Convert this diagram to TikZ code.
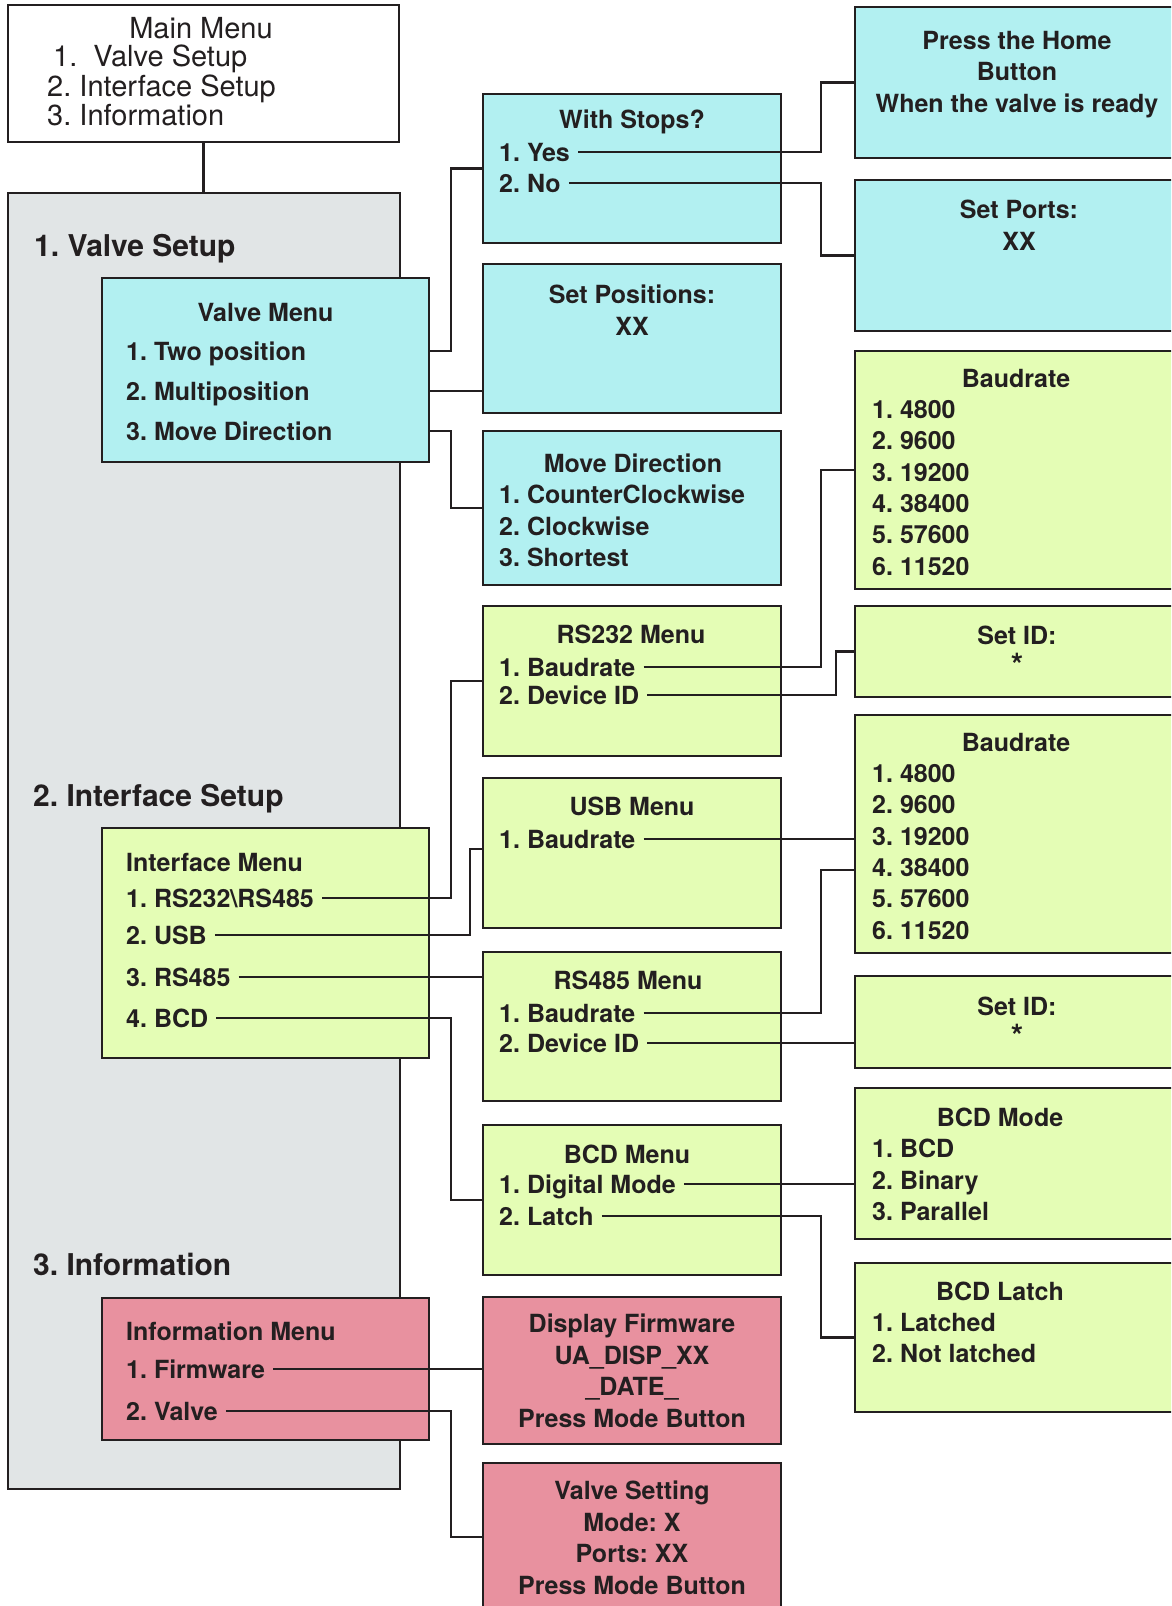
\documentclass[tikz,border=0pt]{standalone}
\usepackage{fontspec}
\setmainfont{TeX Gyre Heros}
\frenchspacing
\definecolor{ink}{HTML}{231F20}
\definecolor{menucyan}{HTML}{B2F0F1}
\definecolor{menulime}{HTML}{E4FDB5}
\definecolor{menupink}{HTML}{E8919F}
\definecolor{panelgray}{HTML}{E1E5E6}
\begin{document}
\begin{tikzpicture}[x=1pt,y=-1pt,
    box/.style={draw=ink,line width=2.6pt,inner sep=0pt},
    cyanbox/.style={box,fill=menucyan},
    limebox/.style={box,fill=menulime},
    pinkbox/.style={box,fill=menupink},
    leftcol/.style={minimum width=327pt},
    midcol/.style={minimum width=298pt},
    rightcol/.style={minimum width=345pt},
    txt/.style={font=\fontsize{25}{31.4}\selectfont\bfseries\frenchspacing,text=ink},
    head/.style={txt,inner sep=0pt,text height=18pt,text depth=0pt},
    item/.style={txt,anchor=west,inner xsep=8pt,inner ysep=0pt,text height=18pt,text depth=0pt},
    lines/.style={txt,inner sep=0pt,anchor=north west,align=left},
    clines/.style={txt,inner sep=0pt,anchor=north,align=center},
    section/.style={anchor=west,inner sep=0pt,text=ink,text height=21.6pt,text depth=0pt,
        font=\fontsize{30}{36}\selectfont\bfseries\frenchspacing},
    wire/.style={ink,line width=2.4pt}
]
\useasboundingbox (0,0) rectangle (1171,1606);
\clip (0,0) rectangle (1171,1606);

% bus lines
\coordinate (busa) at (451,0);
\coordinate (busb) at (470,0);
\coordinate (busc) at (821,0);
\coordinate (busd) at (836,0);

% main menu
\node[box,fill=white,minimum width=391pt,minimum height=137pt] (mainmenu) at (203.5,73.5) {};
\node[txt,font=\fontsize{29}{29.5}\selectfont,inner sep=0pt,text height=21pt,text depth=0pt] (mmtitle) at (201,28) {Main Menu};
\node[lines,font=\fontsize{29}{29.5}\selectfont\frenchspacing] (mmlist) at (47,45)
    {\hspace*{6pt}1.\ \ Valve Setup\\2. Interface Setup\\3. Information};

% left panel
\node[box,fill=panelgray,minimum width=392pt,minimum height=1296pt] (panel) at (204,841) {};
\node[section] (sec1) at (34,246) {1. Valve Setup};
\node[section] (sec2) at (33,796) {2. Interface Setup};
\node[section] (sec3) at (33,1265) {3. Information};

\node[cyanbox,leftcol,minimum height=184pt] (valvemenu) at (265.5,370) {};
\node[limebox,leftcol,minimum height=230pt] (ifacemenu) at (265.5,943) {};
\node[pinkbox,leftcol,minimum height=142pt] (infomenu) at (265.5,1369) {};

% middle column
\node[cyanbox,midcol,minimum height=149pt] (withstops) at (632,168.5) {};
\node[cyanbox,midcol,minimum height=149pt] (setpos) at (632,338.5) {};
\node[cyanbox,midcol,minimum height=154pt] (movedir) at (632,508) {};
\node[limebox,midcol,minimum height=150pt] (rs232) at (632,681) {};
\node[limebox,midcol,minimum height=150pt] (usb) at (632,853) {};
\node[limebox,midcol,minimum height=149pt] (rs485) at (632,1026.5) {};
\node[limebox,midcol,minimum height=150pt] (bcdmenu) at (632,1200) {};
\node[pinkbox,midcol,minimum height=147pt] (firmware) at (632,1370.5) {};
\node[pinkbox,midcol,minimum height=148pt] (valveset) at (632,1537) {};

% right column
\node[cyanbox,rightcol,minimum height=151pt] (home) at (1027.5,82.5) {};
\node[cyanbox,rightcol,minimum height=151pt] (setports) at (1027.5,255.5) {};
\node[limebox,rightcol,minimum height=238pt] (baud1) at (1027.5,470) {};
\node[limebox,rightcol,minimum height=91pt] (setid1) at (1027.5,651.5) {};
\node[limebox,rightcol,minimum height=238pt] (baud2) at (1027.5,834) {};
\node[limebox,rightcol,minimum height=92pt] (setid2) at (1027.5,1022) {};
\node[limebox,rightcol,minimum height=151pt] (bcdmode) at (1027.5,1163.5) {};
\node[limebox,rightcol,minimum height=149pt] (bcdlatch) at (1027.5,1337.5) {};

% texts, left
\node[head] (vmtitle) at (265.5,312) {Valve Menu};
\node[item] (vm1) at (118,351) {1. Two position};
\node[item] (vm2) at (118,391) {2. Multiposition};
\node[item] (vm3) at (118,431) {3. Move Direction};
\node[item] (iftitle) at (118,862) {Interface Menu};
\node[item] (if1) at (118,898) {1. RS232\textbackslash RS485};
\node[item] (if2) at (118,935) {2. USB};
\node[item] (if3) at (118,977) {3. RS485};
\node[item] (if4) at (118,1018) {4. BCD};
\node[item] (intitle) at (118,1331) {Information Menu};
\node[item] (in1) at (118,1369) {1. Firmware};
\node[item] (in2) at (118,1411) {2. Valve};

% texts, middle
\node[head] (wstitle) at (632,119) {With Stops?};
\node[item] (ws1) at (491,152) {1. Yes};
\node[item] (ws2) at (491,183) {2. No};
\node[clines] (sptext) at (632,285) {Set Positions:\\XX};
\node[head] (mdtitle) at (633,463) {Move Direction};
\node[lines] (mdlist) at (499,485) {1. CounterClockwise\\2. Clockwise\\3. Shortest};
\node[head] (rstitle) at (631,634) {RS232 Menu};
\node[item] (rs1) at (491,667) {1. Baudrate};
\node[item] (rs2) at (491,695) {2. Device ID};
\node[head] (usbtitle) at (632,806) {USB Menu};
\node[item] (usb1) at (491,839) {1. Baudrate};
\node[head] (rxtitle) at (628,980) {RS485 Menu};
\node[item] (rx1) at (491,1013) {1. Baudrate};
\node[item] (rx2) at (491,1043) {2. Device ID};
\node[head] (bctitle) at (627,1154) {BCD Menu};
\node[item] (bc1) at (491,1184) {1. Digital Mode};
\node[item] (bc2) at (491,1216) {2. Latch};
\node[clines] (fwtext) at (632,1314) {Display Firmware\\UA\_DISP\_XX\\\_DATE\_\\Press Mode Button};
\node[clines] (vstext) at (632,1481) {Valve Setting\\Mode: X\\Ports: XX\\Press Mode Button};

% texts, right
\node[clines] (hometext) at (1017,31) {Press the Home\\Button\\When the valve is ready};
\node[clines] (sptstext) at (1019,200) {Set Ports:\\XX};
\node[head] (b1title) at (1016,378) {Baudrate};
\node[lines] (b1list) at (872,400) {1. 4800\\2. 9600\\3. 19200\\4. 38400\\5. 57600\\6. 11520};
\node[clines] (id1text) at (1017,626) {Set ID:\\{\fontsize{32}{31.4}\selectfont *}};
\node[head] (b2title) at (1016,742) {Baudrate};
\node[lines] (b2list) at (872,764) {1. 4800\\2. 9600\\3. 19200\\4. 38400\\5. 57600\\6. 11520};
\node[clines] (id2text) at (1017,997) {Set ID:\\{\fontsize{32}{31.4}\selectfont *}};
\node[head] (bmtitle) at (1000,1117) {BCD Mode};
\node[lines] (bmlist) at (872,1139) {1. BCD\\2. Binary\\3. Parallel};
\node[head] (bltitle) at (1000,1291) {BCD Latch};
\node[lines] (bllist) at (872,1313) {1. Latched\\2. Not latched};

% connectors
\draw[wire] (mainmenu.south) -- (mainmenu.south |- panel.north);
\draw[wire] (vm1 -| valvemenu.east) -- (vm1 -| busa) |- (withstops.west);
\draw[wire] (vm2 -| valvemenu.east) -- (vm2 -| setpos.west);
\draw[wire] (vm3 -| valvemenu.east) -- (vm3 -| busa) |- (movedir.west);
\draw[wire] (ws1.east) -- (ws1.east -| busc) |- (home.west);
\draw[wire] (ws2.east) -- (ws2.east -| busc) |- (setports.west);
\draw[wire] (if1.east) -- (if1.east -| busa) |- (rs232.west);
\draw[wire] (if2.east) -- (if2.east -| busb) |- ([yshift=4pt]usb.west);
\draw[wire] (if3.east) -- (if3.east -| rs485.west);
\draw[wire] (if4.east) -- (if4.east -| busa) |- (bcdmenu.west);
\draw[wire] (rs1.east) -- (rs1.east -| busc) |- (baud1.west);
\draw[wire] (rs2.east) -- (rs2.east -| busd) |- (setid1.west);
\draw[wire] (usb1.east) -- (usb1.east -| baud2.west);
\draw[wire] (rx1.east) -- (rx1.east -| busc) |- ([yshift=-36pt]baud2.west);
\draw[wire] (rx2.east) -- (rx2.east -| setid2.west);
\draw[wire] (bc1.east) -- (bc1.east -| bcdmode.west);
\draw[wire] (bc2.east) -- (bc2.east -| busc) |- (bcdlatch.west);
\draw[wire] (in1.east) -- (in1.east -| firmware.west);
\draw[wire] (in2.east) -- (in2.east -| busa) |- (valveset.west);
\end{tikzpicture}
\end{document}
